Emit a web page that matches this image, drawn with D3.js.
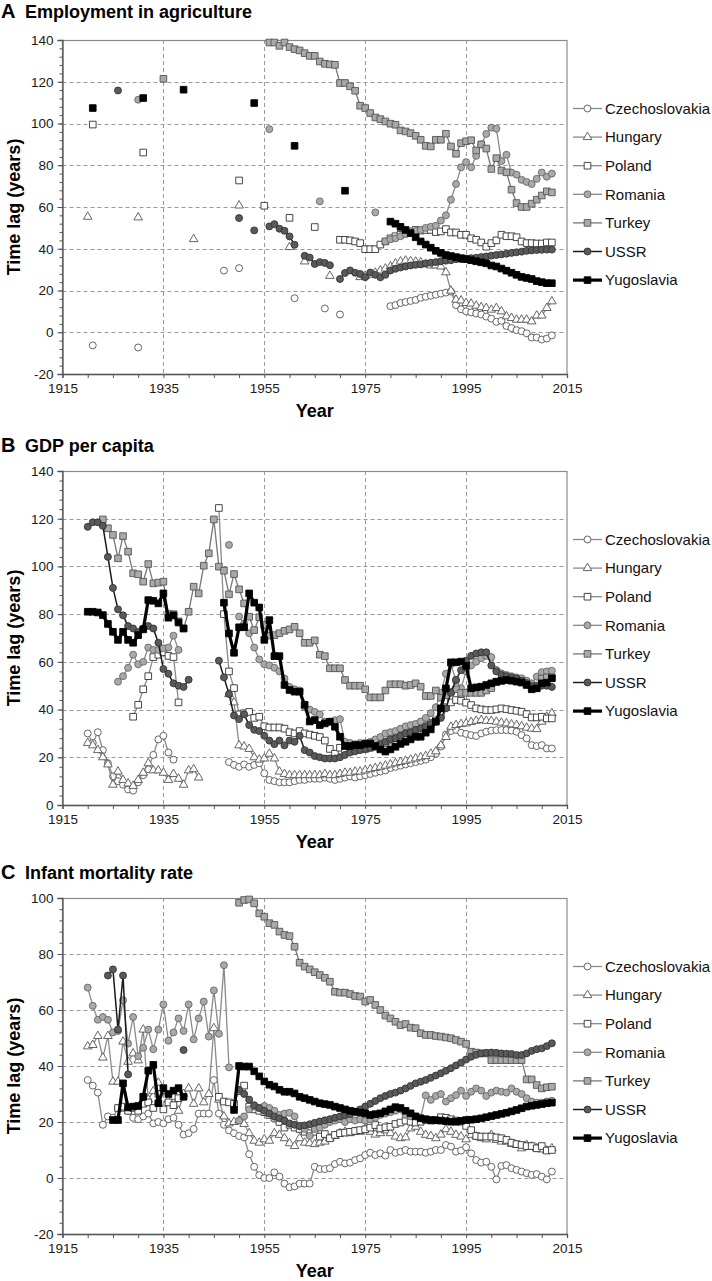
<!DOCTYPE html>
<html><head><meta charset="utf-8">
<script src="https://cdn.jsdelivr.net/npm/d3@7"></script>
<style>body{margin:0;background:#fff} svg{display:block}</style>
</head><body><svg id="chart" width="712" height="1281"></svg>
<script>
// ---------- DATA (runs: [startYear, [values for consecutive years]]) ----------
const countries = ["Czechoslovakia","Hungary","Poland","Romania","Turkey","USSR","Yugoslavia"];
const xTickLabels = [1915,1935,1955,1975,1995,2015];
const yTicksA = [-20,0,20,40,60,80,100,120,140];
const yTicksB = [0,20,40,60,80,100,120,140];
const yTicksC = [-20,0,20,40,60,80,100];

// A: Employment in agriculture
const agrCzech = [[1921,[-6.3]],[1930,[-7.3]],[1947,[29.5]],[1950,[30.7]],[1961,[16.3]],[1967,[11.4]],[1970,[8.5]],
 [1980,[12.5,13,14,14.5,15,15.5,16.5,17,17.5,18,18.5,19,19.5,13,11,10,9.5,9,8.5,7.5,6.5,5,5.5,3,2,1,0.5,-0.5,-2.5,-2.5,-3.5,-3,-1.5]]];
const agrHungary = [[1920,[55.3]],[1930,[55]],[1941,[44.6]],[1950,[60.7]],[1960,[40.8]],[1963,[33.9]],[1968,[27]],
 [1974,[26.4,27,27.5,28.5,29.6,30.5,31.5,33,33.9,34.3,34,33.8,33.5,32.5,32,32,31.5,28.7,19.9,15.6,15.2,14,13.7,12.7,12,11.6,10.8,11.6,10,7.6,6.8,6,6,6,5.2,8,8,11.6,14.8]]];
const agrPoland = [[1921,[99.5]],[1931,[86.1]],[1950,[72.7]],[1955,[60.6]],[1960,[54.8]],[1965,[50.4]],
 [1970,[44.3,44.3,44,43.5,42.7,39.8,39.8,39.8,42,43.5,45,46,46.7,47.5,48.3,49,48.7,49,49,48,48.3,49.4,47.8,47.8,46.7,46.7,45,44.3,43,41,42.7,44,46.7,46,46,45.5,43.5,42.7,42.7,42.5,42.5,43,43]]];
const agrRomania = [[1930,[111.4]],[1956,[97.3]],[1966,[62.7]],[1977,[57.4]],
 [1979,[43.5,44.5,45,46,47,47.5,48.5,49,50,50.5,51,53.5,56,63.5,71,79,81.5,79,84.5,90,95,98,97.5,82,85,76.5,75.5,73,72,71,73.5,76.5,74.5,76]]];
const agrTurkey = [[1935,[121.4]],
 [1956,[138.8,138.8,137.2,138.8,136.6,135.6,135,133.7,132.4,132.4,129.7,128.6,128.3,128.1,119.4,119.4,117.8,115.7,108.5,107.4,105,102.9,102.1,101,99.9,99.4,96.7,96.2,95.4,94.1,92.2,89.3,89,92.2,92.2,95.1,89,85.5,90.6,91.5,92,87.1,90,88,78.2,83.4,77.5,76.6,68.3,61.9,60,60,61.6,63.5,65.5,67.5,67]]];
const agrUSSR = [[1926,[115.8]],[1950,[54.7]],[1953,[48.8]],[1956,[50.7,51.8,49.6,48.6,45.9,41.9]],[1963,[36.6,35.8,32.7,33.6,33.2,32.1]],
 [1970,[25.5,28.4,29.6,28.5,27.9,26.4,28.6,27.5,26.3,27.5,29.6,30.4,31,31.5,32,32.3,32.5,33,33.3,33.6,34,34.3,34.5,35,35,35.3,35.5,35.7,36,36.3,36.7,37,37.3,37.6,38,38.3,38.6,39,39.2,39.4,39.5,39.6,39.6]]];
const agrYugoslavia = [[1921,[107.4]],[1931,[112.2]],[1939,[116.2]],[1953,[109.8]],[1961,[89.3]],[1971,[67.8]],
 [1980,[53,52,50.5,49,47.5,45.5,43.5,42,40.5,39,38,37,36.5,36,35.5,35,34.5,34,33.5,33,32,31.5,30.5,29.5,28.5,27.5,26.5,26,25.5,24.5,24,23.5,23.5]]];

// B: GDP per capita
const gdpCzech = [[1920,[30,26,30.5,23,17.5,12,10,8.5,6.5,6,9.5,12.5,15,21,27.5,29,22,19]],
 [1948,[18,16.8,16,17,16,16.8,17.5,13.3,10.5,10,9.5,9.5,9.5,10,10.5,10.5,11,11,11,11.5,11,10.5,11,11.5,12,11.5,12,12.5,13,13.5,14,14.5,15.5,16,16.5,17,17.5,18,18.5,19,20,21.5,24.5,29.5,31,31.5,30.3,29.8,29.3,28.9,30,30.7,31.2,31.4,31.4,31.4,31.2,30.7,29.3,27.9,25.1,24.7,25.1,23.7,23.7]]];
const gdpHungary = [[1920,[26,25,23,20,17,8.5,14,10.5,9,8,10.5,13.5,17.5,14.5,14.5,13.5,10.5,13,11,8.5,14.5,15,11.5]],
 [1948,[46.5,43,25,24.5,23.5,20,19,19.5,21.5,19.5,14,13,12.5,12.5,12.5,12.5,12.5,12.5,12.5,13,12.5,12.5,13,13.5,13.5,14,14,14.5,15,15.5,16,16.5,17,17.5,18,18.5,19,19.5,20,20.5,21.5,22.5,25,28.5,32.8,33.5,33.9,34.2,34.8,35.3,35.6,35.3,35.2,34.9,34.5,34.2,33.8,33.5,33,32.4,32,31.8,34.9,37,38.4]]];
const gdpPoland = [[1929,[37,42,48.5,54,62,63,64,62.5,62,43]],
 [1946,[124.5,80,56,49,38,38.5,39,36.5,37,33,32.5,32.5,32.5,32,30.5,30,31,30,29.5,29,28.5,27,23.5,21.5,24,23,23.5,23,23.5,23.5,24,24.5,25,26,27,28,29,30,31,32,33,33.5,34.5,35.5,38,41,43,44,43.7,42.9,41.9,40.5,40.1,39.8,39.8,40.1,40.5,40.2,39.8,39.5,39.1,38.1,36.7,36.7,37,36.3,36.3]]];
const gdpRomania = [[1926,[51.7,54,57.5,63,59,60,66,65,65,65.7,66,71,65]],[1948,[109]],
 [1950,[79,76,72,66,61,59,58.5,57.5,56,53,49.5,48.5,48,41,40,39,38,35,35,35.5,36,26.5,26,25.5,26,26,26.5,27.5,28.5,30,30.5,31,32,33,33.5,34,35,36.5,38.5,41,47,55,59,52,49,56,58.5,60,61.5,62.5,62,56.6,55.2,54.5,54,53.5,53.1,52.1,51,53.8,55.7,56,56.3]]];
const gdpTurkey = [[1923,[119.7,116,113.2,103.4,112.7,106.2,97.1,96.7,93.6,101,92.9,93.2,93.6,80,80,77,74,81,91.5,88.7,100.3,105.5,119.7,99.9,98.2,88.3,96.8,90.4,84.5,78.9,73.3,78.7,75.4,71,71.2,72,73,73.6,74.7,72,68,68,69,63,62.4,57.3,57.3,57.3,52.4,50,50,50,48.5,45.1,45.1,45.1,48,50.6,50.6,50.6,50,50.3,51,49.6,45.7,45.7,48,45,46,47.5,48.5,47,47,47,47,47,48,49,51.5,52,52.5,52.5,52.5,52,51,50,49,53,53.5,53.5]]];
const gdpUSSR = [[1920,[116.6,118.5,118.5,117,104,91,82,79.5,75,74,72.5,74,75,74,68,57,55,51,50,49.5,52.5]],
 [1946,[60.5,53.5,46.5,37.5,36,38,33.5,31.5,31,29,27,25.5,27,25,27,26.5,29,23,22,20.5,20,19.5,19.5,19.5,20,21,22,22.5,23,23.5,24,24.5,25.5,26.5,27.5,28,29,30,30.5,31.5,32,33,34,35,36.5,40.5,47,52.5,56.5,60.5,62.5,63.5,64,64,58.5,56,54.5,54,53.5,53,52,51,49.5,50,50,50,49.5]]];
const gdpYugoslavia = [[1920,[81,81,80.7,79.6,75.9,72.6,69.2,72.6,69.2,68,71.2,73.6,85.9,85.6,84.5,88.7,78.5,79.5,76.5,74]],
 [1947,[84.8,71.9,63.8,74.5,74.5,88.7,84.8,82.8,69.2,77.5,62.4,62.4,50.3,48.2,47.5,47.5,42,35,35.6,33.5,34.2,34.9,32.8,28.6,24.7,24.7,25.1,25.1,25.6,25.8,24.7,23.3,22.4,23.3,24.4,25.6,26.5,27.5,28.6,28.6,30.3,31.7,34.9,40.5,48.9,59.8,59.8,60.1,58.3,48.9,49.3,49.6,50.3,51,51.7,52.1,52.4,52.1,51.7,51.3,50.3,48.5,48.9,51,51.3,53.1]]];

// C: Infant mortality rate
const imrCzech = [[1920,[35,33,30.5,19,22,21.5,25,25,24,21.5,21,22,23,19.5,20,19.5,21,21.5,19,15.5,16,17.5,23,23,23,35,23,19,17,16,15,14.5,8.5,4,1,0,0,2,0.5,-2,-3.3,-3,-2,-2,-2,4,3.2,3.2,3.5,5,5.8,5.2,5.5,6.4,7,8.2,9,8.2,8.8,8,10,9,9.4,10,9.4,9.4,9.4,9,9.4,10,10,11.8,11.2,9.4,9.8,11,8.8,6.4,5.5,5.8,4,-0.5,4.3,4.6,3.5,2.9,2.3,1.7,1.1,1.4,0.5,-0.5,2.3]]];
const imrHungary = [[1920,[47,47.5,50.7,43,50.7,34.4,34.4,48.7,41.5,44.5,42,53,28,31,34,31,28,29,24,30,32,26.5,32,27,30,53.5,28,22,19.5,20,20.5,19.3,16,13.3,12.6,13.8,13.3,16,15.4,14.2,12.4,11.4,14.2,12.6,12.4,12.1,12.6,13,14.2,15,16,16.5,16,16.5,16.5,17.7,16.5,15.5,16,17,16,14.8,14.2,14.5,17.7,18.3,16.5,15.4,15,14.2,15.5,17.4,16.5,15.4,14.8,13.8,15.4,14.8,14.2,13.8,15.4,13.6,13,13,12.2,11.8,10.6,11.8,11.2,10.6,10.2,9.8,10.6]]];
const imrPoland = [[1926,[25,25.5,24,25,24,26.5,27,25,30,24.5,27,26,28.5]],
 [1946,[29,27.3,27,26.5,31,33,25.5,24.5,24,23.5,22.5,21.5,20,18,19,18,17.5,16.5,16,16.5,14.8,15.7,14.2,15.4,16,16.2,16.5,16.8,17.1,17.4,18,18.9,17.7,18.1,18.3,19.3,19.8,20.5,20.1,19.8,20.1,20.7,20.5,20.7,21.7,21.5,21,20.5,20.1,18.6,17.1,15,14.8,14.8,14.8,14.5,14.2,13.6,12.6,12.1,11.8,11.4,11.4,10.6,11.4,9.8,10]]];
const imrRomania = [[1920,[68,61.5,56.5,57.5,56.5,52,52.5,63.5,48,57.5,43.5,46.5,53,46,53,62,49,52,57,52.5,62,49.5,57,63,50.5,67,51.5,76,39.5]],
 [1950,[20.5,22,24.5,25.5,25,25.7,25,24,22.5,23,23.3,22,18.5,17.5,15,17.5,18,19,20,20.5,21,20,21,20.5,21,20.5,21,21.5,22.5,23,23.5,24,24.5,22.5,22,22,21.5,29.5,27.9,29.3,30,27.3,28.5,29.6,31.2,29.3,30.8,32,31.2,29.3,30.5,31.2,30.8,30.5,32,30.8,30,28.5,27.3,26.9,26.9,27.3,27.6]]];
const imrTurkey = [[1950,[98.3,99.3,99.5,98.1,94.5,93.3,91,90.4,88,86.8,86.4,82.6,76.9,75.5,74.5,73.5,72.5,71.5,70.1,66.5,66.2,66.2,65.7,65,64.8,63,63.6,61.8,60,58,57,55.8,54.6,55,53.7,53.5,51.7,51.1,51.1,50.7,50.5,50.2,49.9,49.3,48.7,47.9,45.1,44.8,44.5,44.5,42.1,42.1,42.1,42.1,42.1,42.1,42.1,35.2,35.2,33.2,32,32.4,32.6]]];
const imrUSSR = [[1924,[72.3,74.5,53,72.3,37]],[1939,[45.7]],
 [1950,[31.5,30,28,26,25,24,23,22,21.3,20.5,19.5,19,18.6,18.8,19.2,19.7,20.2,20.6,21,21.5,22,22.5,22.8,23.6,24.5,25.5,26.5,27.5,28.5,29.3,30,30.5,31.2,32,32.9,33.8,34.4,35,35.8,36.6,37.4,38.3,39.2,40.2,41.2,42.3,43.3,44,44.5,44.7,44.8,44.7,44.5,44.4,44.3,43.9,43.9,44.5,45.4,46,46.3,47.1,48.1]]];
const imrYugoslavia = [[1925,[20.7,20.7,33.8,25.2,25.5,25.7,29,38.3,40.4,26.7,32.1,30,31.2,32.1,29]],
 [1949,[24.3,40,39.8,39.8,38.1,36.3,34.5,33.3,32.7,31.5,30.8,30.8,30.2,29,28.5,27.9,27.3,26.7,26.4,26.1,25.5,25,24.5,24,23.7,23.4,23.1,22.5,22.8,23.1,23.8,24.5,25.3,25,24,23.1,22,21.3,21,20.7,20.6,20.5,20.3,20.1,20.1,20.4,20.7,20.8,21,21.3,21.7,22.1,22.5,22.9,23.3,23.8,24.3,24.9,25.5,25.8,26.1,26.4,26.7,26.9]]];

// ---------- STYLE / LAYOUT ----------
const FONT = "'Liberation Sans', Arial, Helvetica, sans-serif";
const styles = {
  Czechoslovakia:{shape:d3.symbolCircle,  size:38, fill:"#ffffff", stroke:"#555", line:"#8a8a8a", lw:1.3},
  Hungary:       {shape:d3.symbolTriangle,size:32, fill:"#ffffff", stroke:"#555", line:"#8a8a8a", lw:1.3},
  Poland:        {shape:d3.symbolSquare,  size:44, fill:"#ffffff", stroke:"#333", line:"#8a8a8a", lw:1.3},
  Romania:       {shape:d3.symbolCircle,  size:38, fill:"#a9a9a9", stroke:"#666", line:"#8a8a8a", lw:1.3},
  Turkey:        {shape:d3.symbolSquare,  size:44, fill:"#a9a9a9", stroke:"#555", line:"#777777", lw:1.3},
  USSR:          {shape:d3.symbolCircle,  size:38, fill:"#5a5a5a", stroke:"#333", line:"#1a1a1a", lw:1.5},
  Yugoslavia:    {shape:d3.symbolSquare,  size:44, fill:"#000000", stroke:"#000", line:"#000000", lw:3.2}
};

const panels = [
  {letter:"A", title:"Employment in agriculture", titleY:18, top:40, bottom:374, yMin:-20, yMax:140, yTicks:yTicksA,
   series:[agrCzech,agrHungary,agrPoland,agrRomania,agrTurkey,agrUSSR,agrYugoslavia]},
  {letter:"B", title:"GDP per capita", titleY:452, top:471, bottom:805, yMin:0, yMax:140, yTicks:yTicksB,
   series:[gdpCzech,gdpHungary,gdpPoland,gdpRomania,gdpTurkey,gdpUSSR,gdpYugoslavia]},
  {letter:"C", title:"Infant mortality rate", titleY:879, top:898, bottom:1234, yMin:-20, yMax:100, yTicks:yTicksC,
   series:[imrCzech,imrHungary,imrPoland,imrRomania,imrTurkey,imrUSSR,imrYugoslavia]}
];

const svg = d3.select("#chart");
const X0 = 62.5, X1 = 567;
const x = d3.scaleLinear().domain([1915, 2015]).range([X0, X1]);

function expand(runs){ return runs.map(([s, vals]) => vals.map((v,i)=>[s+i, v])); }

panels.forEach(p => {
  const g = svg.append("g");
  const y = d3.scaleLinear().domain([p.yMin, p.yMax]).range([p.bottom, p.top]);

  // title
  const t = g.append("text").attr("x", 1).attr("y", p.titleY).attr("font-family", FONT).attr("font-weight", "bold").attr("fill","#000");
  t.append("tspan").attr("font-size", 20).text(p.letter);
  t.append("tspan").attr("x", 25).attr("font-size", 18).text(p.title);

  // grid
  g.append("g").selectAll("line").data(p.yTicks.filter(v => v !== p.yMin && v !== p.yMax)).join("line")
    .attr("x1", X0).attr("x2", X1).attr("y1", d => Math.round(y(d))+0.5).attr("y2", d => Math.round(y(d))+0.5)
    .attr("stroke", "#9a9a9a").attr("stroke-dasharray", "4,3").attr("stroke-width", 1);
  g.append("g").selectAll("line").data(xTickLabels.filter(v => v !== 1915 && v !== 2015)).join("line")
    .attr("x1", d => Math.round(x(d))+0.5).attr("x2", d => Math.round(x(d))+0.5).attr("y1", p.top).attr("y2", p.bottom)
    .attr("stroke", "#9a9a9a").attr("stroke-dasharray", "4,3").attr("stroke-width", 1);

  // border
  g.append("rect").attr("x", X0).attr("y", p.top+0.5).attr("width", X1-X0).attr("height", p.bottom-p.top)
    .attr("fill","none").attr("stroke","#8a8a8a").attr("stroke-width",1.2);

  // axes
  const yMinor = g.append("g").attr("transform", `translate(${X0},0)`)
    .call(d3.axisLeft(y).tickValues(d3.range(p.yMin, p.yMax + 0.01, 4)).tickSize(3).tickFormat(""));
  yMinor.select(".domain").remove();
  const yAx = g.append("g").attr("transform", `translate(${X0},0)`)
    .call(d3.axisLeft(y).tickValues(p.yTicks).tickSize(5).tickPadding(4).tickFormat(d => String(d)));
  const xAx = g.append("g").attr("transform", `translate(0,${p.bottom})`)
    .call(d3.axisBottom(x).tickValues(d3.range(1915, 2016, 5)).tickSize(4).tickPadding(5)
      .tickFormat(d => xTickLabels.includes(d) ? String(d) : ""));
  [yAx, xAx, yMinor].forEach(a => {
    a.attr("font-family", FONT).attr("font-size", 13.5);
    a.selectAll("line").attr("stroke", "#555");
    a.selectAll(".domain").attr("stroke", "#555").attr("stroke-width", 1.3);
    a.selectAll("text").attr("fill", "#1a1a1a");
  });

  // axis titles
  g.append("text").attr("transform", `translate(20,${(p.top+p.bottom)/2}) rotate(-90)`)
    .attr("text-anchor","middle").attr("font-family",FONT).attr("font-size",18).attr("font-weight","bold").text("Time lag (years)");
  g.append("text").attr("x", (X0+X1)/2).attr("y", p.bottom + 43)
    .attr("text-anchor","middle").attr("font-family",FONT).attr("font-size",18).attr("font-weight","bold").text("Year");

  // series
  const line = d3.line().x(d => x(d[0])).y(d => y(d[1]));
  p.series.forEach((runs, si) => {
    const st = styles[countries[si]];
    const segs = expand(runs);
    const sg = g.append("g");
    sg.selectAll("path.ln").data(segs.filter(s => s.length > 1)).join("path").attr("class","ln")
      .attr("d", line).attr("fill","none").attr("stroke", st.line).attr("stroke-width", st.lw).attr("stroke-linejoin","round");
    const sym = d3.symbol().type(st.shape).size(st.size);
    sg.selectAll("path.mk").data(segs.flat()).join("path").attr("class","mk")
      .attr("transform", d => `translate(${x(d[0])},${y(d[1])})`).attr("d", sym)
      .attr("fill", st.fill).attr("stroke", st.stroke).attr("stroke-width", 0.9);
  });

  // legend
  const lg = g.append("g");
  const ly0 = p.top + 68.5;
  countries.forEach((c, i) => {
    const st = styles[c];
    const yy = ly0 + i * 28.6;
    lg.append("line").attr("x1", 573).attr("x2", 602).attr("y1", yy).attr("y2", yy)
      .attr("stroke", st.line).attr("stroke-width", st.lw);
    lg.append("path").attr("transform", `translate(587.5,${yy})`).attr("d", d3.symbol().type(st.shape).size(st.size)())
      .attr("fill", st.fill).attr("stroke", st.stroke).attr("stroke-width", 0.9);
    lg.append("text").attr("x", 605).attr("y", yy).attr("dy","0.35em").attr("font-family",FONT).attr("font-size",15)
      .attr("fill","#111").text(c);
  });
});
</script>
</body></html>
